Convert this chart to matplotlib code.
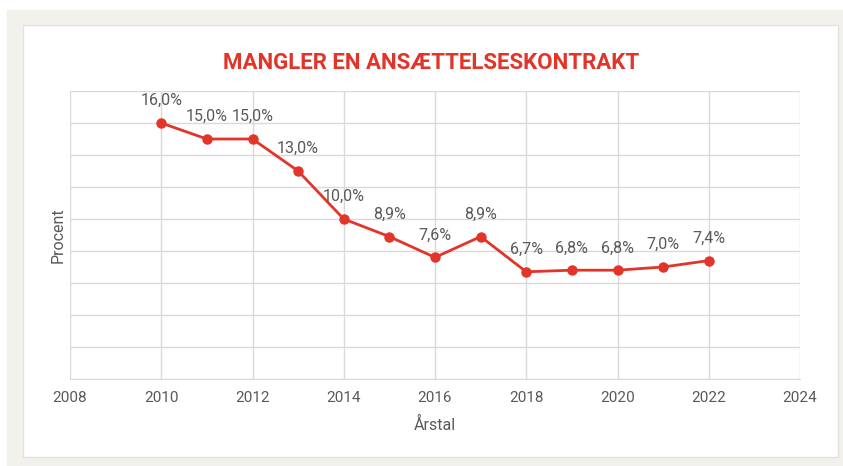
import matplotlib.pyplot as plt
import matplotlib.patches as patches

years = [2010, 2011, 2012, 2013, 2014, 2015, 2016, 2017, 2018, 2019, 2020, 2021, 2022]
values = [16.0, 15.0, 15.0, 13.0, 10.0, 8.9, 7.6, 8.9, 6.7, 6.8, 6.8, 7.0, 7.4]
x_ticks = [2008, 2010, 2012, 2014, 2016, 2018, 2020, 2022, 2024]

RED = "#e3342a"
GREY_TEXT = "#595959"
GRID = "#d9d9d9"

plt.rcParams["font.family"] = ["Roboto", "DejaVu Sans"]

fig = plt.figure(figsize=(8.43, 4.66), dpi=100)
W, H = 843, 466

# beige frame and white panel behind the chart
fig.patches.append(patches.Rectangle((7 / W, 0), 1 - 7 / W, 1 - 10 / H,
                                     transform=fig.transFigure, color="#f3f1ec", zorder=-2))
fig.patches.append(patches.Rectangle((23 / W, 9 / H), (838 - 23) / W, (457 - 25) / H,
                                     transform=fig.transFigure, facecolor="white",
                                     edgecolor="#e2e2e2", linewidth=1, zorder=-1))

ax = fig.add_axes([70 / W, 1 - 379 / H, 730 / W, 288 / H])
ax.set_facecolor("none")

ax.plot(years, values, color=RED, linewidth=2, marker="o", markersize=6.5, zorder=3)
for yr, v in zip(years, values):
    ax.annotate(f"{v:.1f}%".replace(".", ","), (yr, v), xytext=(0, 16), textcoords="offset points",
                ha="center", va="center", fontsize=11.5, color=GREY_TEXT)

ax.set_xlim(2008, 2024)
ax.set_ylim(0, 18)
ax.set_xticks(x_ticks)
ax.set_yticks(range(0, 19, 2))
ax.set_yticklabels([])
ax.tick_params(axis="both", length=0, labelsize=11, labelcolor=GREY_TEXT, pad=9)
ax.grid(True, color=GRID, linewidth=1)
ax.set_axisbelow(True)
for s in ax.spines.values():
    s.set_visible(False)
ax.spines["bottom"].set_visible(True)
ax.spines["bottom"].set_color(GRID)

ax.set_xlabel("Årstal", fontsize=11.5, color=GREY_TEXT)
ax.set_ylabel("Procent", fontsize=11.5, color=GREY_TEXT)
ax.xaxis.set_label_coords(0.5, -38 / 288)
ax.yaxis.set_label_coords(-4 / 730, 0.5)

fig.text(431 / W, 1 - 63 / H, "MANGLER EN ANSÆTTELSESKONTRAKT", ha="center", va="center",
         fontsize=16, fontweight="bold", color=RED)

fig.savefig("out.png", dpi=100)
